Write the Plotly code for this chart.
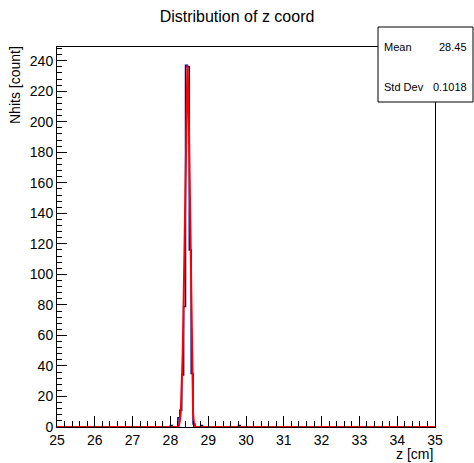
import numpy as np
import plotly.graph_objects as go

# histogram: 200 bins of 0.05 cm between 25 and 35, only non-empty bins listed
bin_width = 0.05
bin_lows = [28.00, 28.20, 28.25, 28.30, 28.35, 28.40, 28.45, 28.50, 28.55, 28.60, 28.80, 29.80]
counts = [1, 6, 11, 34, 79, 237, 236, 116, 35, 2, 1, 1]

# red fitted curve
fit_z = [25.0, 28.20, 28.225, 28.25, 28.275, 28.30, 28.325, 28.35, 28.375, 28.40, 28.425,
         28.45, 28.475, 28.50, 28.525, 28.55, 28.575, 28.60, 28.625, 28.65, 35.0]
fit_n = [0, 0, 1, 4, 10, 24, 48, 82, 128, 178, 220,
         237, 222, 180, 122, 66, 28, 9, 2, 0, 0]

stat_names = ["Mean", "Std Dev"]
stat_values = ["28.45", "0.1018"]

edges = np.round(np.arange(25.0, 35.0 + bin_width / 2, bin_width), 4)
full = np.zeros(len(edges) - 1)
for lo, c in zip(bin_lows, counts):
    full[int(round((lo - 25.0) / bin_width))] = c

FONT = "Liberation Sans, Arial, sans-serif"

fig = go.Figure()

# blue histogram outline
fig.add_trace(go.Scatter(
    x=edges, y=np.append(full, full[-1]),
    mode="lines", line=dict(color="#000099", width=1.5, shape="hv"),
    showlegend=False, hoverinfo="skip"
))

# red fit
fig.add_trace(go.Scatter(
    x=fit_z, y=fit_n,
    mode="lines", line=dict(color="#ff0000", width=2),
    showlegend=False, hoverinfo="skip"
))

fig.update_xaxes(
    range=[25, 35], tickmode="linear", tick0=25, dtick=1,
    ticks="inside", ticklen=11, tickcolor="black",
    minor=dict(ticks="inside", ticklen=6, dtick=0.2, tickcolor="black"),
    showline=True, linecolor="black", linewidth=1, mirror=True,
    showgrid=False, zeroline=False,
    tickfont=dict(family=FONT, size=14, color="black")
)
fig.update_yaxes(
    range=[0, 249], tickmode="linear", tick0=0, dtick=20,
    ticks="inside", ticklen=10, tickcolor="black",
    minor=dict(ticks="inside", ticklen=5, dtick=4, tickcolor="black"),
    showline=True, linecolor="black", linewidth=1, mirror=True,
    showgrid=False, zeroline=False,
    tickfont=dict(family=FONT, size=14, color="black")
)

# stats box (covers the frame corner, like ROOT)
fig.add_shape(type="rect", xref="paper", yref="paper",
              x0=(378 - 57) / 378, x1=(473 - 57) / 378,
              y0=(427 - 102) / 380, y1=(427 - 27) / 380,
              line=dict(color="black", width=1), fillcolor="white", layer="above")

for i, (name, val) in enumerate(zip(stat_names, stat_values)):
    ypix = 47 + i * 40
    fig.add_annotation(text=name, xref="paper", yref="paper",
                       x=(382 - 57) / 378, y=(427 - ypix) / 380,
                       xanchor="left", yanchor="middle", showarrow=False,
                       font=dict(family=FONT, size=11, color="black"))
    fig.add_annotation(text=val, xref="paper", yref="paper",
                       x=(469 - 57) / 378, y=(427 - ypix) / 380,
                       xanchor="right", yanchor="middle", showarrow=False,
                       font=dict(family=FONT, size=11, color="black"))

# axis titles, placed like ROOT does
fig.add_annotation(text="Nhits [count]", xref="paper", yref="paper",
                   x=(15 - 57) / 378, y=(427 - 44) / 380, textangle=-90,
                   xanchor="center", yanchor="top", showarrow=False,
                   font=dict(family=FONT, size=14, color="black"))
fig.add_annotation(text="z [cm]", xref="paper", yref="paper",
                   x=1.0, y=(427 - 454) / 380,
                   xanchor="right", yanchor="middle", showarrow=False,
                   font=dict(family=FONT, size=14, color="black"))

fig.update_layout(
    width=474, height=463,
    title=dict(text="Distribution of z coord", x=0.5, xanchor="center",
               y=1 - 16 / 463, yanchor="middle",
               font=dict(family=FONT, size=16, color="black")),
    margin=dict(l=57, r=39, t=47, b=36),
    paper_bgcolor="white", plot_bgcolor="white",
)

# the page body has a default 8px margin; drop it so the figure fills the window
fig.write_html("out.html", config={"displayModeBar": False},
               post_script="document.body.style.margin='0';document.body.style.overflow='hidden';")
